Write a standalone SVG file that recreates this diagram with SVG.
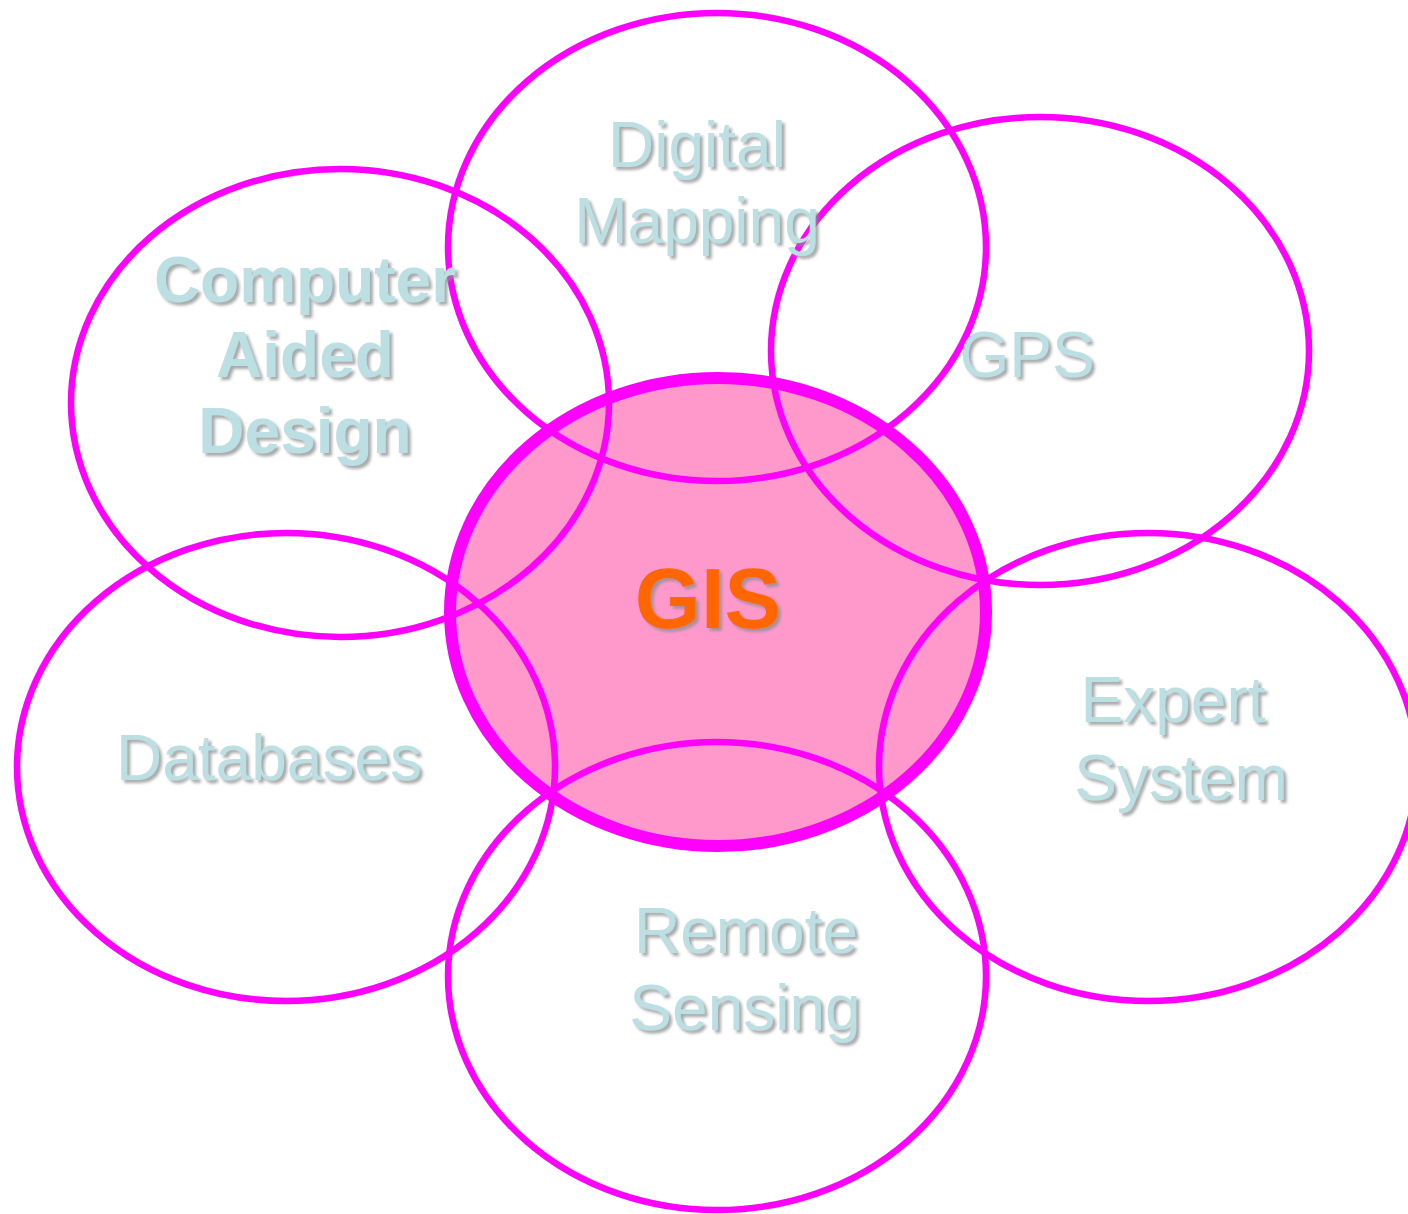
<svg xmlns="http://www.w3.org/2000/svg" width="1408" height="1214" viewBox="0 0 1408 1214">
  <defs>
    <filter id="shadow" x="-10%" y="-20%" width="130%" height="150%">
      <feDropShadow dx="3" dy="3" stdDeviation="1.5" flood-color="#8c8c8c" flood-opacity="0.75"/>
    </filter>
  </defs>
  <style>
    .ring { fill: none; stroke: #ff00ff; stroke-width: 6.5; }
    .core { fill: #ff99cc; stroke: #ff00ff; stroke-width: 12; }
    .lbl { font-family: "Liberation Sans", Arial, sans-serif; font-size: 64px; fill: #bcdfe3; text-anchor: middle; filter: url(#shadow); }
    .bold { font-weight: bold; }
    .gis { font-family: "Liberation Sans", Arial, sans-serif; font-size: 85px; font-weight: bold; fill: #ff6600; text-anchor: middle; filter: url(#shadow); }
  </style>

  <rect width="1408" height="1214" fill="#ffffff"/>

  <!-- central circle -->
  <g id="gis">
    <ellipse class="core" cx="718" cy="612" rx="268" ry="234"/>
  </g>

  <g id="digital-mapping">
    <ellipse class="ring" cx="717" cy="247" rx="269" ry="234"/>
  </g>
  <g id="cad">
    <ellipse class="ring" cx="340" cy="403" rx="269" ry="234"/>
  </g>
  <g id="gps">
    <ellipse class="ring" cx="1040" cy="351" rx="269" ry="234"/>
  </g>
  <g id="databases">
    <ellipse class="ring" cx="286" cy="767" rx="269" ry="234"/>
  </g>
  <g id="expert-system">
    <ellipse class="ring" cx="1148" cy="767" rx="269" ry="234"/>
  </g>
  <g id="remote-sensing">
    <ellipse class="ring" cx="717" cy="976" rx="269" ry="234"/>
  </g>

  <!-- labels -->
  <g id="labels">
    <text class="lbl" x="697" y="167">Digital</text>
    <text class="lbl" x="697" y="243">Mapping</text>
    <text class="lbl bold" x="305" y="302">Computer</text>
    <text class="lbl bold" x="305" y="377">Aided</text>
    <text class="lbl bold" x="305" y="453">Design</text>
    <text class="lbl" x="1027" y="377">GPS</text>
    <text class="lbl" x="269" y="780">Databases</text>
    <text class="lbl" x="1173" y="722">Expert</text>
    <text class="lbl" x="1181" y="800">System</text>
    <text class="lbl" x="746" y="953">Remote</text>
    <text class="lbl" x="745" y="1030">Sensing</text>
    <text class="gis" x="708" y="628">GIS</text>
  </g>
</svg>
